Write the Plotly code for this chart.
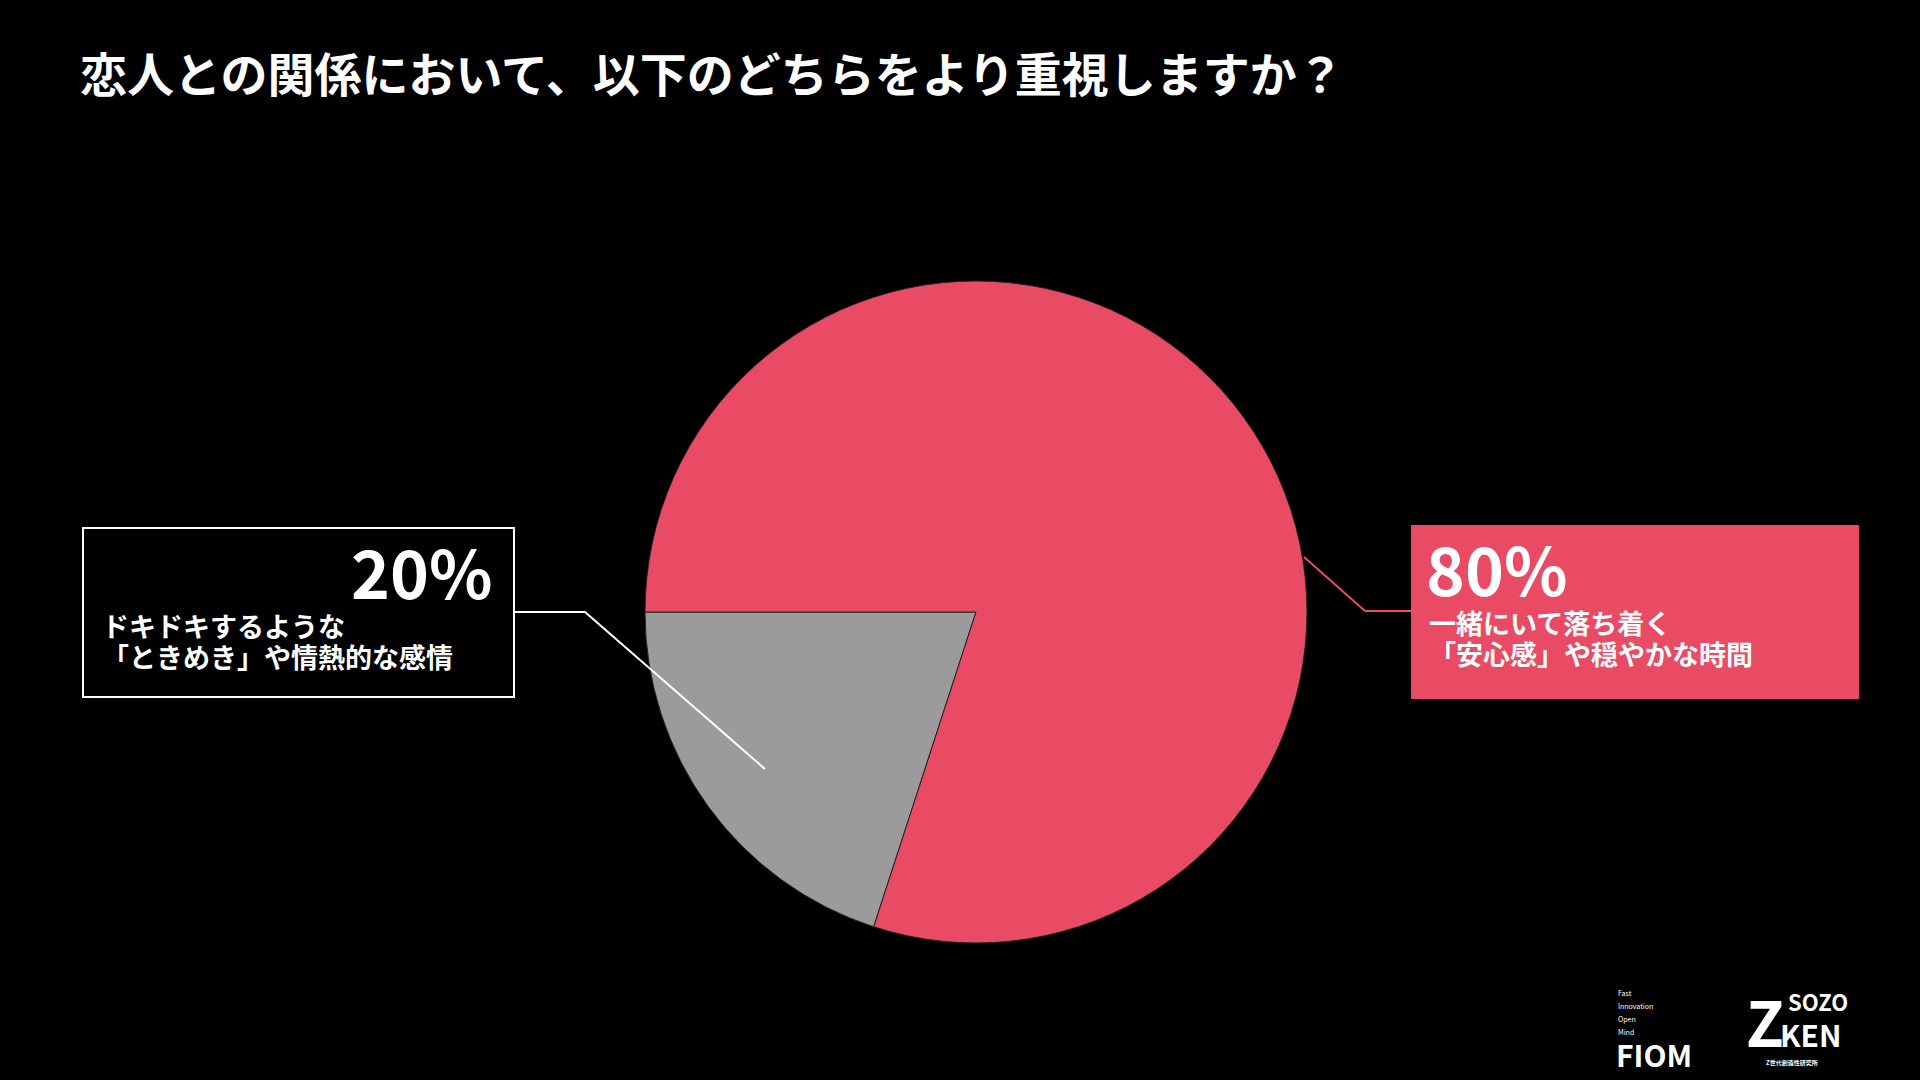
import plotly.graph_objects as go

labels = ["ドキドキするような「ときめき」や情熱的な感情", "一緒にいて落ち着く「安心感」や穏やかな時間"]
values = [20, 80]
colors = ["#9B9B9B", "#E84B63"]
title = "恋人との関係において、以下のどちらをより重視しますか？"

W, H = 1920, 1080
FONT = "Noto Sans CJK JP"


def px(x):
    return x / W


def py(y):
    return 1 - y / H


fig = go.Figure(go.Pie(
    labels=labels, values=values, sort=False, direction="clockwise", rotation=198,
    marker=dict(colors=colors, line=dict(color="#222222", width=1)),
    textinfo="none", hoverinfo="label+percent", showlegend=False,
    domain=dict(x=[px(976 - 331), px(976 + 331)], y=[py(612 + 331), py(612 - 331)]),
))

shapes = [
    dict(type="rect", xref="paper", yref="paper", x0=px(83), x1=px(514), y0=py(697), y1=py(528),
         line=dict(color="white", width=2), fillcolor="black"),
    dict(type="rect", xref="paper", yref="paper", x0=px(1411), x1=px(1859), y0=py(699), y1=py(525),
         line=dict(width=0), fillcolor=colors[1]),
    dict(type="path", xref="paper", yref="paper",
         path=f"M {px(514)} {py(612)} L {px(585)} {py(612)} L {px(765)} {py(769)}",
         line=dict(color="white", width=2)),
    dict(type="path", xref="paper", yref="paper",
         path=f"M {px(1304)} {py(557)} L {px(1365)} {py(611)} L {px(1411)} {py(611)}",
         line=dict(color=colors[1], width=2)),
]

def txt(x, y, s, size, xanchor="left", color="white", bold=True):
    return dict(xref="paper", yref="paper", x=px(x), y=py(y), text=f"<b>{s}</b>" if bold else s,
                showarrow=False, xanchor=xanchor, yanchor="middle",
                font=dict(family=FONT, size=size, color=color), align="left")

annotations = [
    txt(78, 71, title, 47),
    txt(494, 570, f"{values[0]}%", 66, xanchor="right"),
    txt(100, 625, "ドキドキするような", 27),
    txt(100, 656, "「ときめき」や情熱的な感情", 27),
    txt(1424, 567, f"{values[1]}%", 66),
    txt(1427, 622, "一緒にいて落ち着く", 27),
    txt(1427, 653, "「安心感」や穏やかな時間", 27),
    txt(1616, 993, "Fast", 7, bold=False),
    txt(1616, 1006, "Innovation", 7, bold=False),
    txt(1616, 1019, "Open", 7, bold=False),
    txt(1616, 1032, "Mind", 7, bold=False),
    txt(1614, 1054, "FIOM", 30),
    txt(1744, 1020, "Z", 62),
    txt(1786, 1001, "SOZO", 22),
    txt(1778, 1034, "KEN", 30),
    txt(1764, 1062, "Z世代創造性研究所", 6),
]

fig.update_layout(
    width=W, height=H, paper_bgcolor="black", plot_bgcolor="black",
    margin=dict(l=0, r=0, t=0, b=0), shapes=shapes, annotations=annotations,
)

fig.write_html("out.html", config={"displayModeBar": False},
               post_script="document.body.style.margin='0';document.body.style.background='black';")
